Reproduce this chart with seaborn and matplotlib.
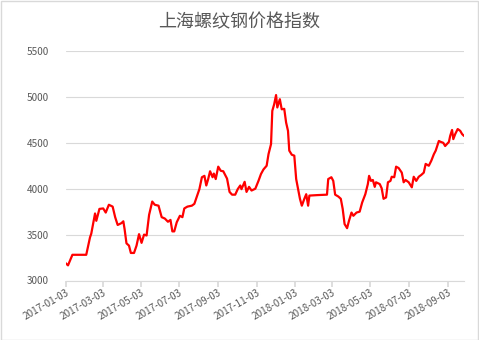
import matplotlib
matplotlib.use("Agg")
import matplotlib.pyplot as plt
import matplotlib.dates as mdates
import seaborn as sns
import pandas as pd
from matplotlib.patches import Rectangle

title = "上海螺纹钢价格指数"

dates = [
    "2017-01-03", "2017-01-07", "2017-01-10", "2017-01-14", "2017-02-05", "2017-02-11",
    "2017-02-13", "2017-02-19", "2017-02-21", "2017-02-26", "2017-03-04", "2017-03-08",
    "2017-03-13", "2017-03-19", "2017-03-23", "2017-03-27", "2017-04-02", "2017-04-05",
    "2017-04-07", "2017-04-10", "2017-04-14", "2017-04-17", "2017-04-22", "2017-04-26",
    "2017-04-30", "2017-05-04", "2017-05-08", "2017-05-12", "2017-05-16", "2017-05-21",
    "2017-05-25", "2017-05-31", "2017-06-05", "2017-06-10", "2017-06-15", "2017-06-19",
    "2017-06-22", "2017-06-25", "2017-06-29", "2017-07-04", "2017-07-08", "2017-07-11",
    "2017-07-16", "2017-07-23", "2017-07-27", "2017-07-31", "2017-08-04", "2017-08-08",
    "2017-08-12", "2017-08-15", "2017-08-18", "2017-08-21", "2017-08-25", "2017-08-27",
    "2017-08-30", "2017-09-03", "2017-09-07", "2017-09-11", "2017-09-17", "2017-09-21",
    "2017-09-25", "2017-09-30", "2017-10-04", "2017-10-08", "2017-10-10", "2017-10-15",
    "2017-10-18", "2017-10-22", "2017-10-26", "2017-11-01", "2017-11-06", "2017-11-10",
    "2017-11-14", "2017-11-19", "2017-11-22", "2017-11-26", "2017-11-28", "2017-12-01",
    "2017-12-04", "2017-12-06", "2017-12-10", "2017-12-13", "2017-12-17", "2017-12-20",
    "2017-12-23", "2017-12-25", "2017-12-29", "2018-01-02", "2018-01-05", "2018-01-09",
    "2018-01-11", "2018-01-14", "2018-01-18", "2018-01-21", "2018-01-24", "2018-01-26",
    "2018-02-07", "2018-02-23", "2018-02-25", "2018-03-02", "2018-03-05", "2018-03-08",
    "2018-03-13", "2018-03-17", "2018-03-20", "2018-03-23", "2018-03-27", "2018-03-30",
    "2018-04-03", "2018-04-06", "2018-04-11", "2018-04-16", "2018-04-20", "2018-04-25",
    "2018-04-29", "2018-05-01", "2018-05-04", "2018-05-07", "2018-05-10", "2018-05-12",
    "2018-05-18", "2018-05-21", "2018-05-24", "2018-05-28", "2018-05-31", "2018-06-04",
    "2018-06-06", "2018-06-10", "2018-06-13", "2018-06-17", "2018-06-22", "2018-06-25",
    "2018-06-28", "2018-07-03", "2018-07-08", "2018-07-11", "2018-07-15", "2018-07-19",
    "2018-07-23", "2018-07-27", "2018-07-30", "2018-08-04", "2018-08-08", "2018-08-12",
    "2018-08-15", "2018-08-20", "2018-08-23", "2018-08-27", "2018-08-30", "2018-09-05",
    "2018-09-07", "2018-09-10", "2018-09-12", "2018-09-15", "2018-09-19", "2018-09-23",
    "2018-09-26", "2018-09-29",
]

values = [
    3190, 3165, 3215, 3280, 3280, 3470,
    3510, 3730, 3650, 3780, 3785, 3740,
    3825, 3805, 3690, 3605, 3625, 3645,
    3560, 3405, 3380, 3300, 3300, 3380,
    3505, 3410, 3500, 3490, 3715, 3860,
    3825, 3815, 3690, 3675, 3640, 3660,
    3535, 3535, 3635, 3705, 3690, 3785,
    3805, 3815, 3835, 3915, 3995, 4125,
    4140, 4035, 4105, 4190, 4125, 4165,
    4105, 4240, 4195, 4190, 4110, 3965,
    3935, 3935, 3995, 4035, 3995, 4075,
    3965, 4020, 3980, 4000, 4085, 4160,
    4210, 4250, 4377, 4486, 4848, 4920,
    5020, 4885, 4975, 4865, 4870, 4720,
    4630, 4415, 4370, 4360, 4105, 3960,
    3890, 3815, 3890, 3940, 3815, 3925,
    3930, 3935, 4105, 4125, 4085, 3935,
    3915, 3890, 3780, 3615, 3570, 3650,
    3740, 3705, 3740, 3750, 3850, 3940,
    4050, 4140, 4085, 4095, 4020, 4070,
    4050, 4005, 3890, 3905, 4070, 4085,
    4130, 4125, 4240, 4225, 4175, 4070,
    4095, 4070, 4015, 4130, 4085, 4130,
    4150, 4175, 4270, 4250, 4305, 4375,
    4415, 4520, 4510, 4500, 4465, 4510,
    4575, 4640, 4540, 4595, 4650, 4630,
    4595, 4575,
]

tick_dates = ["2017-01-03", "2017-03-03", "2017-05-03", "2017-07-03", "2017-09-03",
              "2017-11-03", "2018-01-03", "2018-03-03", "2018-05-03", "2018-07-03",
              "2018-09-03"]
y_ticks = [3000, 3500, 4000, 4500, 5000, 5500]

df = pd.DataFrame({"date": pd.to_datetime(dates), "value": values})

sns.set_theme(style="white")
plt.rcParams["font.family"] = ["Noto Sans CJK SC", "DejaVu Sans"]

fig = plt.figure(figsize=(4.79, 3.40), dpi=100)
ax = fig.add_axes([65.5 / 479, 1 - 280.5 / 340, (464 - 65.5) / 479, (280.5 - 51) / 340])

sns.lineplot(data=df, x="date", y="value", ax=ax, color="#ff0000", linewidth=1.6)

ax.set_ylim(3000, 5500)
ax.set_yticks(y_ticks)
ax.set_xlim(df["date"].min(), df["date"].max())
ax.set_xticks(pd.to_datetime(tick_dates))
ax.xaxis.set_major_formatter(mdates.DateFormatter("%Y-%m-%d"))
ax.grid(axis="y", color="#d9d9d9", linewidth=0.8)
ax.set_axisbelow(True)
for s in ["left", "right", "top"]:
    ax.spines[s].set_visible(False)
ax.spines["bottom"].set_color("#d9d9d9")
ax.spines["bottom"].set_linewidth(0.8)
ax.tick_params(axis="x", which="major", bottom=True, length=4, color="#d9d9d9",
               labelsize=7.2, labelcolor="#595959", pad=1)
ax.tick_params(axis="y", left=False, labelsize=7.2, labelcolor="#595959", pad=6)
for lab in ax.get_xticklabels():
    lab.set_rotation(30)
    lab.set_ha("right")
    lab.set_rotation_mode("anchor")
ax.set_xlabel("")
ax.set_ylabel("")

fig.text(0.5, 1 - 22 / 340, title, ha="center", va="center", fontsize=13, color="#595959")
fig.patches.append(Rectangle((0.5 / 479, 0.5 / 340), 1 - 1.5 / 479, 1 - 1.5 / 340,
                             transform=fig.transFigure, fill=False,
                             edgecolor="#d9d9d9", linewidth=1))

fig.savefig("out.png", dpi=100)
